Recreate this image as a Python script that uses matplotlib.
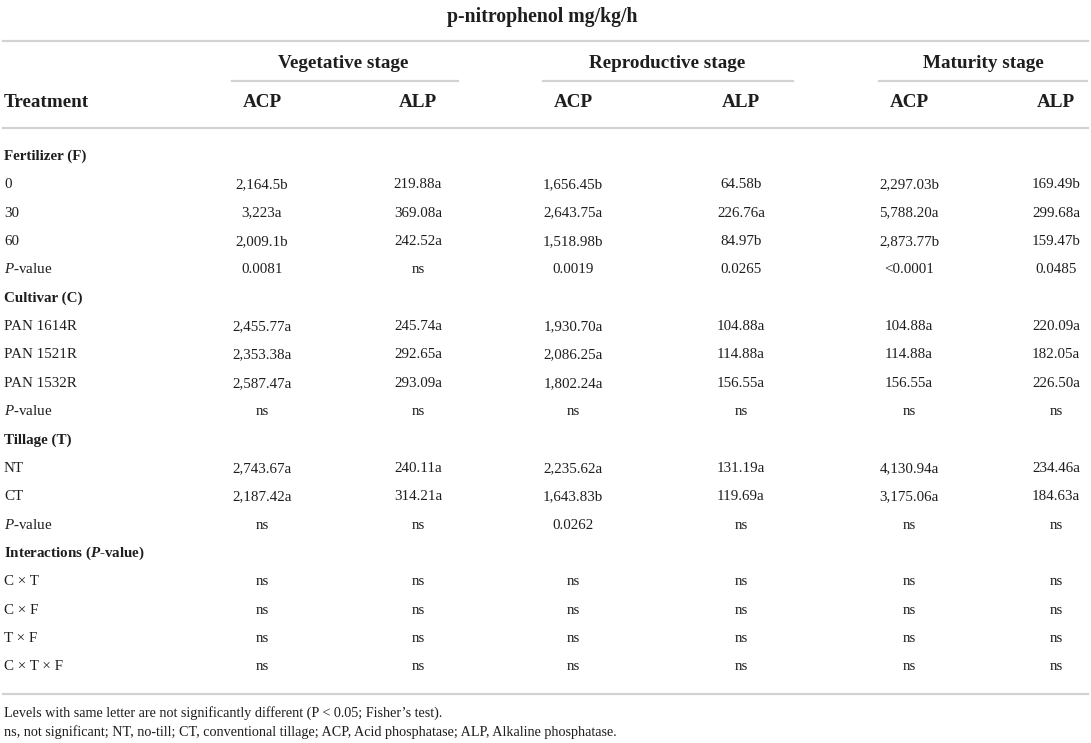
import matplotlib.pyplot as plt
from matplotlib.lines import Line2D

plt.rcParams['font.family'] = ['Liberation Serif', 'DejaVu Serif']
plt.rcParams['mathtext.fontset'] = 'custom'
plt.rcParams['mathtext.rm'] = 'Liberation Serif'
plt.rcParams['mathtext.it'] = 'Liberation Serif:italic'
plt.rcParams['mathtext.bf'] = 'Liberation Serif:bold'
plt.rcParams['mathtext.bfit'] = 'Liberation Serif:italic:bold'

# table content
title = 'p-nitrophenol mg/kg/h'
stages = ['Vegetative stage', 'Reproductive stage', 'Maturity stage']
enzymes = ['ACP', 'ALP']

fert_labels = ['0', '30', '60', '$\\mathit{P}$-value']
fert_vals = [
    ['2,164.5b', '219.88a', '1,656.45b', '64.58b', '2,297.03b', '169.49b'],
    ['3,223a', '369.08a', '2,643.75a', '226.76a', '5,788.20a', '299.68a'],
    ['2,009.1b', '242.52a', '1,518.98b', '84.97b', '2,873.77b', '159.47b'],
    ['0.0081', 'ns', '0.0019', '0.0265', '<0.0001', '0.0485'],
]
cult_labels = ['PAN 1614R', 'PAN 1521R', 'PAN 1532R', '$\\mathit{P}$-value']
cult_vals = [
    ['2,455.77a', '245.74a', '1,930.70a', '104.88a', '104.88a', '220.09a'],
    ['2,353.38a', '292.65a', '2,086.25a', '114.88a', '114.88a', '182.05a'],
    ['2,587.47a', '293.09a', '1,802.24a', '156.55a', '156.55a', '226.50a'],
    ['ns', 'ns', 'ns', 'ns', 'ns', 'ns'],
]
till_labels = ['NT', 'CT', '$\\mathit{P}$-value']
till_vals = [
    ['2,743.67a', '240.11a', '2,235.62a', '131.19a', '4,130.94a', '234.46a'],
    ['2,187.42a', '314.21a', '1,643.83b', '119.69a', '3,175.06a', '184.63a'],
    ['ns', 'ns', '0.0262', 'ns', 'ns', 'ns'],
]
inter_labels = ['C \u00d7 T', 'C \u00d7 F', 'T \u00d7 F', 'C \u00d7 T \u00d7 F']
inter_vals = [['ns'] * 6 for _ in inter_labels]

groups = [
    ('Fertilizer (F)', fert_labels, fert_vals),
    ('Cultivar (C)', cult_labels, cult_vals),
    ('Tillage (T)', till_labels, till_vals),
    ('Interactions ($\\mathbfit{P}$-value)', inter_labels, inter_vals),
]
notes = [
    'Levels with same letter are not significantly different (P < 0.05; Fisher\u2019s test).',
    'ns, not significant; NT, no-till; CT, conventional tillage; ACP, Acid phosphatase; ALP, Alkaline phosphatase.',
]

# layout (pixels)
W, H = 1091, 743
col_x = [262, 418, 573, 741, 909, 1056]
stage_x = [343, 667, 983]
stage_lines = [(232, 458), (543, 793), (879, 1087)]
row0 = 155
step = 28.35
txt = '#1e1e1e'
rule = '#d2d2d2'
body = 10.8
head = 13.8

fig = plt.figure(figsize=(W / 100, H / 100), dpi=100)
ax = fig.add_axes([0, 0, 1, 1])
ax.set_xlim(0, W)
ax.set_ylim(H, 0)
ax.axis('off')


def hline(x0, x1, y):
    ax.add_line(Line2D([x0, x1], [y, y], color=rule, lw=1.6))


def put(x, y, s, size, ha='center', **kw):
    # y is the visual middle of capitals; place on baseline
    ax.text(x, y + size * 0.46, s, ha=ha, va='baseline', fontsize=size, color=txt, **kw)


put(542, 15, title, 14.2, fontweight='bold')
hline(3, 1088, 41)
for name, xc, (a, b) in zip(stages, stage_x, stage_lines):
    put(xc, 62, name, head, fontweight='bold')
    hline(a, b, 81)
put(4, 101, 'Treatment', head, ha='left', fontweight='bold')
for i, xc in enumerate(col_x):
    put(xc, 101, enzymes[i % 2], head, fontweight='bold')
hline(3, 1088, 128)

y = row0
for label, labels, vals in groups:
    put(4, y, label, body, ha='left', fontweight='bold')
    y += step
    for lab, row in zip(labels, vals):
        put(4, y, lab, body, ha='left')
        for xc, v in zip(col_x, row):
            put(xc, y, v, body)
        y += step

hline(3, 1088, 694)
put(4, 712, notes[0], 10.2, ha='left')
put(4, 731, notes[1], 10.2, ha='left')

plt.savefig('out.png', dpi=100)
